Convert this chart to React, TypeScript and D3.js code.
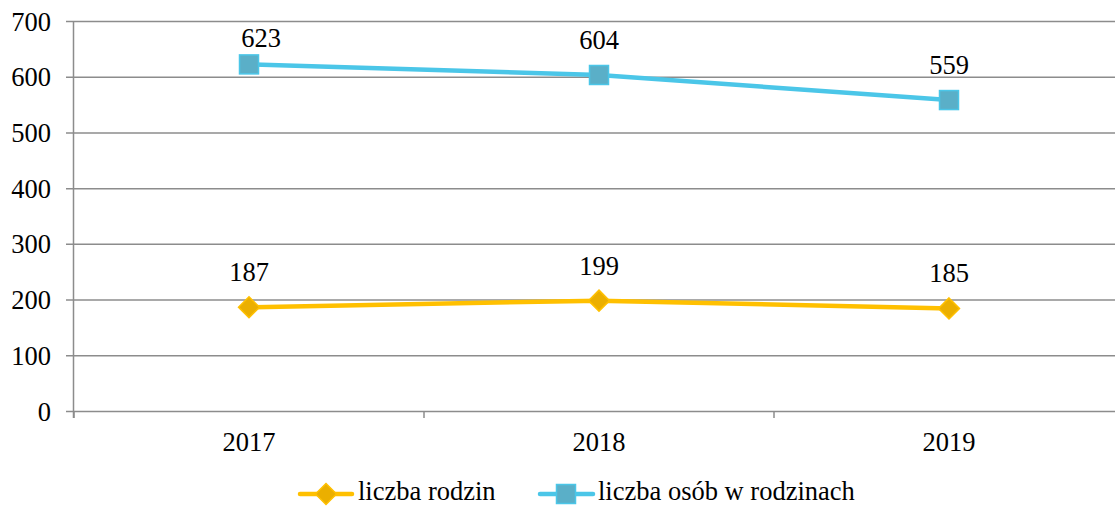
import React from 'react';
import * as d3 from 'd3';

const years = ['2017', '2018', '2019'];
const rodziny = [187, 199, 185];
const osoby = [623, 604, 559];
const yTicks = [0, 100, 200, 300, 400, 500, 600, 700];

const W = 1115;
const H = 506;
const FONT = 'Liberation Serif';
const FS = 26.5;

const series = [
  { name: 'liczba rodzin', values: rodziny, line: '#FFC000', fill: '#EBAF00', marker: 'diamond' },
  { name: 'liczba osób w rodzinach', values: osoby, line: '#4BC6E8', fill: '#5AAFC8', marker: 'square' },
];

const Marker = ({ type, x, y, fill, stroke }) => {
  if (type === 'square') {
    return <rect x={x - 9.5} y={y - 9.5} width={19} height={19} fill={fill} stroke={stroke} strokeWidth={1.5} />;
  }
  const r = 10.5;
  return (
    <path
      d={`M${x},${y - r}L${x + r},${y}L${x},${y + r}L${x - r},${y}Z`}
      fill={fill}
      stroke={stroke}
      strokeWidth={1.5}
    />
  );
};

export default function App() {
  const x = d3.scaleBand().domain(years).range([74, 1124]);
  const y = d3.scaleLinear().domain([0, 700]).range([411.5, 21.5]);
  const cx = (d) => x(d) + x.bandwidth() / 2;
  const axisX = 73.5;

  const line = d3.line().x((d, i) => cx(years[i])).y((d) => y(d));

  // category boundaries for tick marks
  const bounds = years.map((d) => x(d)).concat([x(years[years.length - 1]) + x.bandwidth()]);

  const legY = 494;

  return (
    <div style={{ position: 'absolute', left: 0, top: 0, width: W, height: H, fontFamily: FONT }}>
      <svg width={W} height={H} fontFamily={FONT} fontSize={FS} style={{ display: 'block', background: '#fff' }}>
        {/* grid */}
        {yTicks.map((t) => (
          <g key={t}>
            <line x1={66} x2={W} y1={y(t)} y2={y(t)} stroke="#8c8c8c" strokeWidth={1.5} />
            <text x={51} y={y(t) + 9} textAnchor="end">
              {t}
            </text>
          </g>
        ))}
        <line x1={axisX} x2={axisX} y1={y(700)} y2={418} stroke="#8c8c8c" strokeWidth={1.5} />
        {bounds.map((b, i) => (
          <line key={i} x1={b} x2={b} y1={y(0)} y2={418} stroke="#8c8c8c" strokeWidth={1.5} />
        ))}
        {years.map((yr) => (
          <text key={yr} x={cx(yr)} y={451} textAnchor="middle">
            {yr}
          </text>
        ))}

        {/* series */}
        {series.map((s) => (
          <g key={s.name}>
            <path d={line(s.values)} fill="none" stroke={s.line} strokeWidth={4.5} strokeLinejoin="round" />
            {s.values.map((v, i) => (
              <Marker key={i} type={s.marker} x={cx(years[i])} y={y(v)} fill={s.fill} stroke={s.line} />
            ))}
            {s.values.map((v, i) => {
              const by = y(v) - 26;
              const clamped = by < 47;
              return (
                <text
                  key={'l' + i}
                  x={cx(years[i]) + (clamped ? 12 : 0)}
                  y={clamped ? 47 : by}
                  textAnchor="middle"
                >
                  {v}
                </text>
              );
            })}
          </g>
        ))}

        {/* legend */}
        <g>
          <line x1={300} x2={352} y1={legY} y2={legY} stroke={series[0].line} strokeWidth={4.5} strokeLinecap="round" />
          <Marker type="diamond" x={326} y={legY} fill={series[0].fill} stroke={series[0].line} />
          <text x={358} y={legY + 6}>
            {series[0].name}
          </text>
          <line x1={540} x2={593} y1={legY} y2={legY} stroke={series[1].line} strokeWidth={4.5} strokeLinecap="round" />
          <Marker type="square" x={566} y={legY} fill={series[1].fill} stroke={series[1].line} />
          <text x={598} y={legY + 6}>
            {series[1].name}
          </text>
        </g>
      </svg>
    </div>
  );
}
